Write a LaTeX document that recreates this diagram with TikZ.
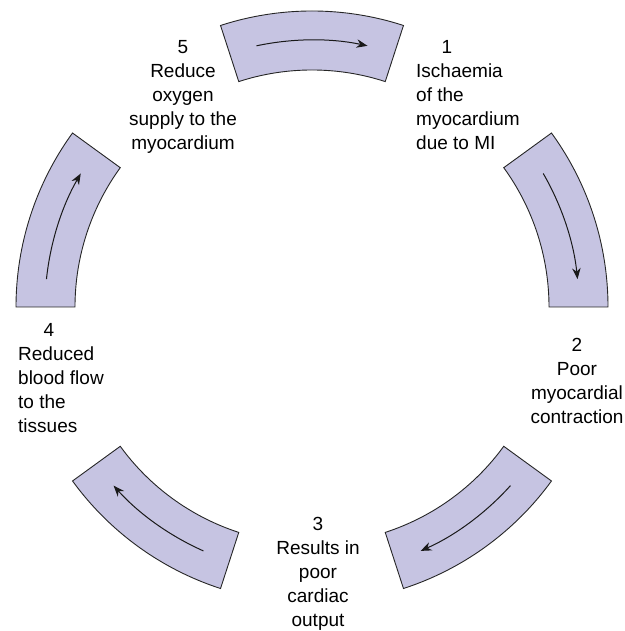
\documentclass[tikz,border=0pt]{standalone}
\usepackage{fontspec}
\setmainfont{Liberation Sans}
\usepackage{tikz}
\usetikzlibrary{arrows.meta}
\definecolor{lila}{RGB}{198,196,226}
\tikzset{
  band/.style={fill=lila,draw=black!85,line width=0.9pt},
  flow/.style={-{Stealth[length=11pt,width=8.5pt]},black!90,line width=1pt},
  lbl/.style={font=\fontsize{19}{24}\selectfont,inner sep=0pt,align=center}
}
\begin{document}
\begin{tikzpicture}[x=1pt,y=1pt]
\useasboundingbox (0,0) rectangle (624,631);
\begin{scope}[shift={(312,324)}]
\foreach \c in {90,18,-54,-126,-198}{
  \draw[band] (\c+18:296) arc[start angle=\c+18,end angle=\c-18,radius=296]
    -- (\c-18:237) arc[start angle=\c-18,end angle=\c+18,radius=237] -- cycle;
  \draw[flow] (\c+12:267) arc[start angle=\c+12,end angle=\c-12,radius=267];
}
\end{scope}
\node[lbl,anchor=north] (t5) at (183,591) {5\\Reduce\\oxygen\\supply to the\\myocardium};
\node[lbl,anchor=base] (n1) at (447,577) {1};
\node[lbl,align=left,anchor=north west] (t1) at (416,567) {Ischaemia\\of the\\myocardium\\due to MI};
\node[lbl,anchor=north] (t2) at (577,293) {2\\Poor\\myocardial\\contraction};
\node[lbl,anchor=north] (t3) at (318,114) {3\\Results in\\poor\\cardiac\\output};
\node[lbl,anchor=base] (n4) at (49,294) {4};
\node[lbl,align=left,anchor=north west] (t4) at (18,284) {Reduced\\blood flow\\to the\\tissues};
\end{tikzpicture}
\end{document}
